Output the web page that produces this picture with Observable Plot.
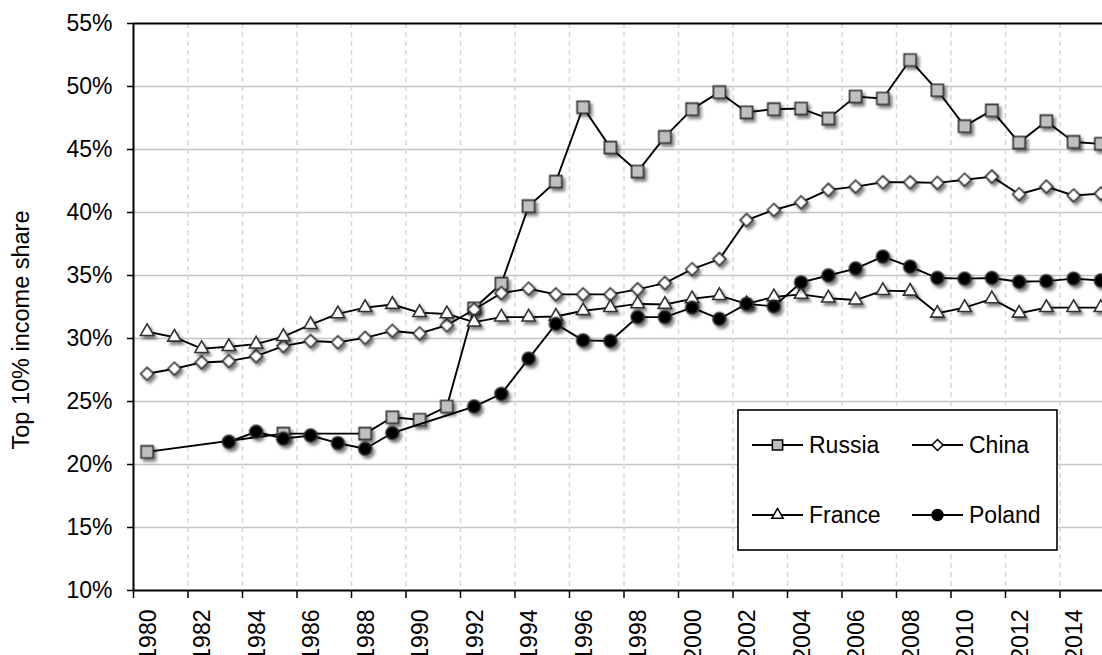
<!DOCTYPE html>
<html><head><meta charset="utf-8">
<script src="https://cdn.jsdelivr.net/npm/d3@7"></script>
<script src="https://cdn.jsdelivr.net/npm/@observablehq/plot@0.6"></script>
<style>
body{margin:0;background:#fff;font-family:"Liberation Sans",Arial,sans-serif;}
#wrap{position:relative;width:1102px;height:655px;overflow:hidden;}
#ytitle{position:absolute;left:21px;top:330px;transform:translate(-50%,-50%) rotate(-90deg);white-space:nowrap;font-size:23.5px;color:#000;}
#legend{position:absolute;left:737px;top:409px;}
</style></head><body><div id="wrap"><div id="ytitle">Top 10% income share</div></div>
<script>
// ---- data ----
const russiaYears = [1980,1985,1988,1989,1990,1991,1992,1993,1994,1995,1996,1997,1998,1999,2000,2001,2002,2003,2004,2005,2006,2007,2008,2009,2010,2011,2012,2013,2014,2015];
const russiaValues = [21.0,22.45,22.45,23.75,23.55,24.6,32.4,34.35,40.5,42.45,48.35,45.15,43.25,46.0,48.2,49.55,47.95,48.2,48.25,47.45,49.2,49.05,52.1,49.7,46.85,48.1,45.55,47.25,45.6,45.45];

const chinaYears = [1980,1981,1982,1983,1984,1985,1986,1987,1988,1989,1990,1991,1992,1993,1994,1995,1996,1997,1998,1999,2000,2001,2002,2003,2004,2005,2006,2007,2008,2009,2010,2011,2012,2013,2014,2015];
const chinaValues = [27.2,27.6,28.1,28.2,28.6,29.4,29.8,29.7,30.05,30.6,30.4,31.05,32.3,33.6,33.95,33.5,33.5,33.5,33.9,34.4,35.5,36.3,39.4,40.2,40.8,41.8,42.05,42.4,42.4,42.35,42.6,42.85,41.45,42.05,41.35,41.5];

const franceYears = [1980,1981,1982,1983,1984,1985,1986,1987,1988,1989,1990,1991,1992,1993,1994,1995,1996,1997,1998,1999,2000,2001,2002,2003,2004,2005,2006,2007,2008,2009,2010,2011,2012,2013,2014,2015];
const franceValues = [30.55,30.1,29.2,29.35,29.55,30.15,31.1,31.95,32.45,32.7,32.05,31.95,31.3,31.7,31.7,31.75,32.2,32.45,32.75,32.7,33.15,33.4,32.75,33.3,33.5,33.2,33.05,33.8,33.75,32.0,32.45,33.15,32.0,32.45,32.45,32.45];

const polandYears = [1983,1984,1985,1986,1987,1988,1989,1992,1993,1994,1995,1996,1997,1998,1999,2000,2001,2002,2003,2004,2005,2006,2007,2008,2009,2010,2011,2012,2013,2014,2015];
const polandValues = [21.8,22.6,22.05,22.3,21.7,21.25,22.5,24.6,25.6,28.4,31.15,29.85,29.8,31.7,31.7,32.45,31.55,32.75,32.55,34.45,35.0,35.55,36.5,35.7,34.8,34.75,34.8,34.5,34.55,34.75,34.6];

const yTicks = [10,15,20,25,30,35,40,45,50,55];
const xLabelYears = [1980,1982,1984,1986,1988,1990,1992,1994,1996,1998,2000,2002,2004,2006,2008,2010,2012,2014];
const xBoundaries = [1979.5,1981.5,1983.5,1985.5,1987.5,1989.5,1991.5,1993.5,1995.5,1997.5,1999.5,2001.5,2003.5,2005.5,2007.5,2009.5,2011.5,2013.5];

const series = [
  {name:"Russia", years:russiaYears, values:russiaValues, symbol:"square", fill:"#c0c0c0", r:6.8},
  {name:"China", years:chinaYears, values:chinaValues, symbol:"diamond2", fill:"#ffffff", r:5.8},
  {name:"France", years:franceYears, values:franceValues, symbol:"triangle2", fill:"#ffffff", r:6.4},
  {name:"Poland", years:polandYears, values:polandValues, symbol:"circle", fill:"#000000", r:6.4}
];

const seriesMarks = series.flatMap(s => {
  const rows = s.years.map((y, i) => ({year: y, value: s.values[i]}));
  return [
    Plot.line(rows, {x: "year", y: "value", stroke: "#000", strokeWidth: 1.9}),
    Plot.dot(rows, {x: "year", y: "value", symbol: () => s.symbol, fill: s.fill, stroke: "#303030", strokeWidth: 1.6, r: s.r, className: "shadowed"})
  ];
});

const chart = Plot.plot({
  width: 1102,
  height: 655,
  marginTop: 23,
  marginBottom: 65,
  marginLeft: 133,
  marginRight: 0,
  style: {fontFamily: '"Liberation Sans", Arial, sans-serif', fontSize: "23px", color: "#000", background: "#fff"},
  x: {domain: [1979.5, 2015.06], axis: null},
  y: {domain: [10, 55], axis: null},
  symbol: {type: "identity"},
  marks: [
    Plot.gridY(yTicks.slice(1, -1), {stroke: "#c4c4c4", strokeOpacity: 1, strokeWidth: 1.5}),
    Plot.gridX(xBoundaries.slice(1), {stroke: "#d6d6d6", strokeOpacity: 1, strokeWidth: 1.5, strokeDasharray: "5,4"}),
    Plot.ruleY([55], {stroke: "#000", strokeWidth: 2}),
    Plot.ruleY([10], {stroke: "#000", strokeWidth: 2}),
    Plot.ruleX([1979.5], {stroke: "#000", strokeWidth: 2}),
    Plot.axisY(yTicks, {anchor: "left", label: null, tickSize: 6, tickPadding: 15, strokeWidth: 1.5, fontSize: 23, tickFormat: d => d + "%"}),
    Plot.axisX(xBoundaries, {anchor: "bottom", label: null, tickSize: 8, strokeWidth: 1.5, tickFormat: () => ""}),
    Plot.axisX(xLabelYears, {anchor: "bottom", label: null, tickSize: 0, tickPadding: 19, tickRotate: -90, fontSize: 23, dx: 1.5, tickFormat: d => String(d)}),
    ...seriesMarks
  ]
});

// drop shadow for markers
const defs = d3.select(chart).insert("defs", ":first-child");
const f = defs.append("filter").attr("id", "mshadow").attr("x", "-50%").attr("y", "-50%").attr("width", "200%").attr("height", "200%");
f.append("feDropShadow").attr("dx", 2.5).attr("dy", 3).attr("stdDeviation", 1.8).attr("flood-color", "#000").attr("flood-opacity", 0.5);
d3.select(chart).selectAll("g.shadowed").attr("filter", "url(#mshadow)");

const wrap = document.getElementById("wrap");
wrap.insertBefore(chart, wrap.firstChild);

// legend
const lw = 320, lh = 141;
const leg = d3.select(wrap).append("svg").attr("id", "legend").attr("width", lw + 2).attr("height", lh + 2);
leg.append("rect").attr("x", 1).attr("y", 1).attr("width", lw - 1).attr("height", lh - 1).attr("fill", "#fff").attr("stroke", "#000").attr("stroke-width", 1.6);
const legendPos = [[15, 36], [175, 36], [15, 106], [175, 106]];
const symMap = {square: d3.symbolSquare, diamond2: d3.symbolDiamond2, triangle2: d3.symbolTriangle2, circle: d3.symbolCircle};
series.forEach((s, i) => {
  const [lx, ly] = legendPos[i];
  const g = leg.append("g").attr("transform", `translate(${lx},${ly})`);
  g.append("line").attr("x1", 0).attr("x2", 51).attr("y1", 0).attr("y2", 0).attr("stroke", "#000").attr("stroke-width", 1.8);
  const rr = s.r * 0.85;
  g.append("path").attr("d", d3.symbol(symMap[s.symbol], Math.PI * rr * rr)()).attr("transform", "translate(25.5,0)")
    .attr("fill", s.fill).attr("stroke", "#000").attr("stroke-width", 1.5);
  g.append("text").attr("x", 57).attr("y", 0).attr("dy", "0.36em").attr("font-size", 23).attr("fill", "#000")
    .attr("font-family", '"Liberation Sans", Arial, sans-serif').text(s.name);
});
</script>
</body></html>
